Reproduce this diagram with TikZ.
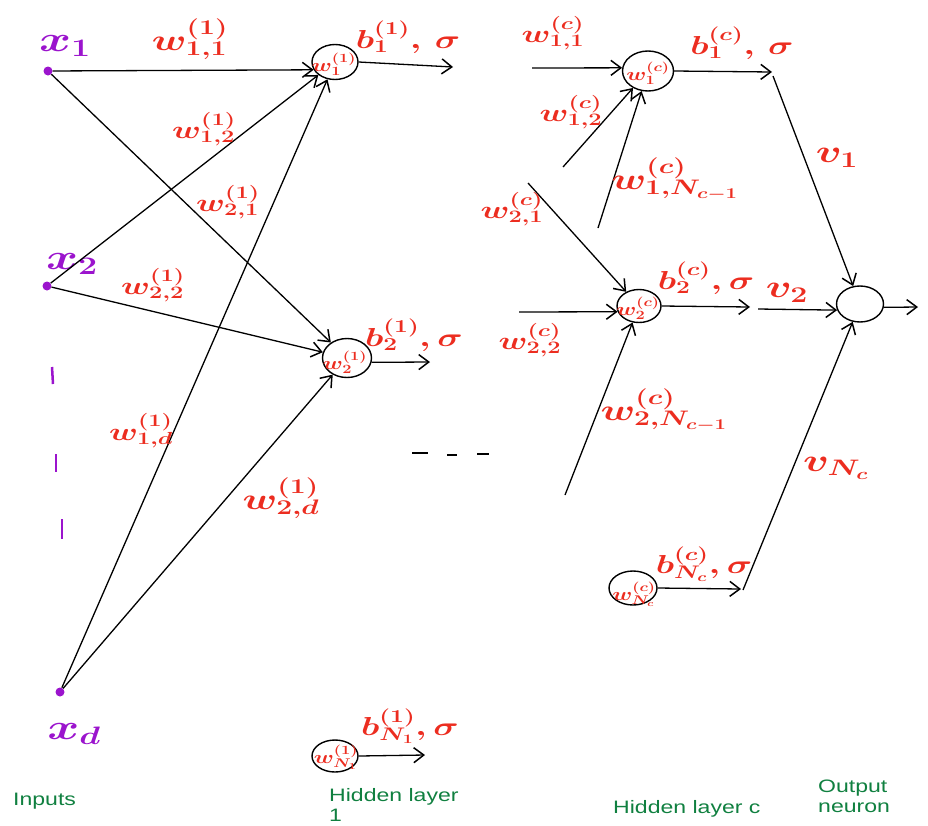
\RequirePackage{fix-cm}
\documentclass[tikz,border=0pt]{standalone}
\usepackage{fontspec}
\usepackage{graphicx}
\usetikzlibrary{arrows.meta,shapes.geometric}
\newfontfamily\lblsans[FakeStretch=1.28]{Liberation Sans}
\definecolor{hred}{RGB}{236,45,32}
\definecolor{hpurple}{RGB}{155,20,205}
\definecolor{hgreen}{RGB}{16,128,64}
\newcommand{\hw}[2][1.35]{\scalebox{#1}[1]{$#2$}}
\begin{document}
\begin{tikzpicture}[x=1pt,y=-1pt,
  neuron/.style={ellipse, draw, line width=1.4pt, inner sep=0pt},
  conn/.style={line width=1.3pt, -{Straight Barb[length=10pt,width=15pt,line width=1.5pt]}},
  inp/.style={circle, fill=hpurple, minimum size=9pt, inner sep=0pt},
  wlab/.style={text=hred, inner sep=0pt, font=\fontsize{30}{34}\selectfont\boldmath},
  wsml/.style={text=hred, inner sep=0pt, font=\fontsize{25}{28}\selectfont\boldmath},
  blab/.style={text=hred, inner sep=0pt, font=\fontsize{26}{30}\selectfont\boldmath},
  vlab/.style={text=hred, inner sep=0pt, font=\fontsize{32}{36}\selectfont\boldmath},
  nlab/.style={text=hred, inner sep=0pt, font=\fontsize{18}{20}\selectfont\boldmath},
  xlab/.style={text=hpurple, inner sep=0pt, font=\fontsize{36}{40}\selectfont\boldmath},
  layer/.style={text=hgreen, inner sep=0pt, font=\lblsans\fontsize{18}{20}\selectfont, align=left},
  tickmark/.style={draw=hpurple, line width=2.5pt},
  dashmark/.style={draw=black, line width=1.6pt}
]
\useasboundingbox (0,0) rectangle (928,825);

% inputs
\node[inp] (x1) at (48,71) {};
\node[inp] (x2) at (47,286) {};
\node[inp] (xd) at (60,692) {};
\node[xlab] (x1t) at (65,46) {\hw{x_1}};
\node[xlab] (x2t) at (72,264) {\hw{x_2}};
\node[xlab] (xdt) at (74,734) {\hw{x_d}};
\draw[tickmark] (52,367) -- (53,384);
\draw[tickmark] (56,454) -- (56,472);
\draw[tickmark] (62,519) -- (62,539);

% hidden layer 1
\node[neuron, minimum width=46pt, minimum height=35pt] (n11) at (335,62) {};
\node[neuron, minimum width=49pt, minimum height=39pt] (n12) at (347,358) {};
\node[neuron, minimum width=46pt, minimum height=32pt] (n1N) at (335,756) {};
\node[nlab] (n11t) at (334,64) {\hw[1.3]{w^{(1)}_1}};
\node[nlab] (n12t) at (345,362) {\hw[1.3]{w^{(1)}_2}};
\node[nlab] (n1Nt) at (336,757) {\hw[1.3]{w^{(1)}_{N_1}}};

\coordinate (h11) at (453,67);
\coordinate (h12) at (430,362);
\coordinate (h1N) at (425,755);

\draw[conn] (x1) -- (n11.200);
\draw[conn] (x1) -- (n12);
\draw[conn] (x2) -- (n11);
\draw[conn] (x2) -- (n12);
\draw[conn] (xd) -- (n11);
\draw[conn] (xd) -- (n12);
\draw[conn] (n11.east) -- (h11);
\draw[conn] (n12.-10) -- (h12);
\draw[conn] (n1N.east) -- (h1N);

\node[wlab] (l11) at (190,39) {\hw{w^{(1)}_{1,1}}};
\node[wsml] (l12) at (204,129) {\hw{w^{(1)}_{1,2}}};
\node[wsml] (l21) at (228,202) {\hw{w^{(1)}_{2,1}}};
\node[wsml] (l22) at (153,285) {\hw{w^{(1)}_{2,2}}};
\node[wsml] (l1d) at (141,431) {\hw{w^{(1)}_{1,d}}};
\node[wlab] (l2d) at (281,498) {\hw{w^{(1)}_{2,d}}};
\node[blab] (b11) at (408,37) {\hw{b^{(1)}_1,\,\sigma}};
\node[blab] (b12) at (414,335) {\hw{b^{(1)}_2,\sigma}};
\node[blab] (b1N) at (410,726) {\hw{b^{(1)}_{N_1},\sigma}};

% dots between layers
\draw[dashmark] (412,453) -- (428,453);
\draw[dashmark] (447,455) -- (457,455);
\draw[dashmark] (477,454) -- (489,454);

% hidden layer c
\node[neuron, minimum width=51pt, minimum height=40pt] (nc1) at (648,71) {};
\node[neuron, minimum width=44pt, minimum height=33pt] (nc2) at (639,306) {};
\node[neuron, minimum width=48pt, minimum height=34pt] (ncN) at (633,588) {};
\node[nlab] (nc1t) at (648,73) {\hw[1.3]{w^{(c)}_1}};
\node[nlab] (nc2t) at (638,308) {\hw[1.3]{w^{(c)}_2}};
\node[nlab] (ncNt) at (634,594) {\hw[1.3]{w^{(c)}_{N_c}}};

\coordinate (a1) at (532,68);
\coordinate (a2) at (563,167);
\coordinate (a3) at (598,228);
\coordinate (a4) at (528,183);
\coordinate (a5) at (519,312);
\coordinate (a6) at (565,495);
\draw[conn] (a1) -- (nc1.173);
\draw[conn] (a2) -- (nc1);
\draw[conn] (a3) -- (nc1);
\draw[conn] (a4) -- (nc2);
\draw[conn] (a5) -- (nc2.195);
\draw[conn] (a6) -- (nc2);

\node[wsml] (lc11) at (553,33) {\hw{w^{(c)}_{1,1}}};
\node[wsml] (lc12) at (571,112) {\hw{w^{(c)}_{1,2}}};
\node[wlab] (lc1N) at (675,179) {\hw{w^{(c)}_{1,N_{c-1}}}};
\node[wsml] (lc21) at (512,209) {\hw{w^{(c)}_{2,1}}};
\node[wsml] (lc22) at (530,340) {\hw{w^{(c)}_{2,2}}};
\node[wlab] (lc2N) at (664,410) {\hw{w^{(c)}_{2,N_{c-1}}}};
\node[blab] (bc1) at (742,43) {\hw{b^{(c)}_1,\,\sigma}};
\node[blab] (bc2) at (706,278) {\hw{b^{(c)}_2,\sigma}};
\node[blab] (bcN) at (704,564) {\hw{b^{(c)}_{N_c},\sigma}};

% output neuron
\node[neuron, minimum width=47pt, minimum height=36pt] (out) at (860,304) {};
\coordinate (c1) at (772,72);
\coordinate (c1s) at (773,76);
\coordinate (c2) at (750,307);
\coordinate (c2s) at (758,309);
\coordinate (cN) at (741,589);
\coordinate (cNs) at (743,590);
\coordinate (oend) at (918,307);
\draw[conn] (nc1.east) -- (c1);
\draw[conn] (nc2.east) -- (c2);
\draw[conn] (ncN.east) -- (cN);
\draw[conn] (c1s) -- (out);
\draw[conn] (c2s) -- (out.195);
\draw[conn] (cNs) -- (out);
\draw[conn] (out.-8) -- (oend);

\node[vlab] (v1) at (837,158) {\hw{v_1}};
\node[vlab] (v2) at (787,293) {\hw{v_2}};
\node[vlab] (vN) at (836,468) {\hw{v_{N_c}}};

% layer captions
\node[layer, anchor=base west] (cap1) at (13,805) {Inputs};
\node[layer, anchor=north west] (cap2) at (329,788) {Hidden layer\\1};
\node[layer, anchor=base west] (cap3) at (613,813) {Hidden layer c};
\node[layer, anchor=north west] (cap4) at (818,780) {Output\\neuron};
\end{tikzpicture}
\end{document}
